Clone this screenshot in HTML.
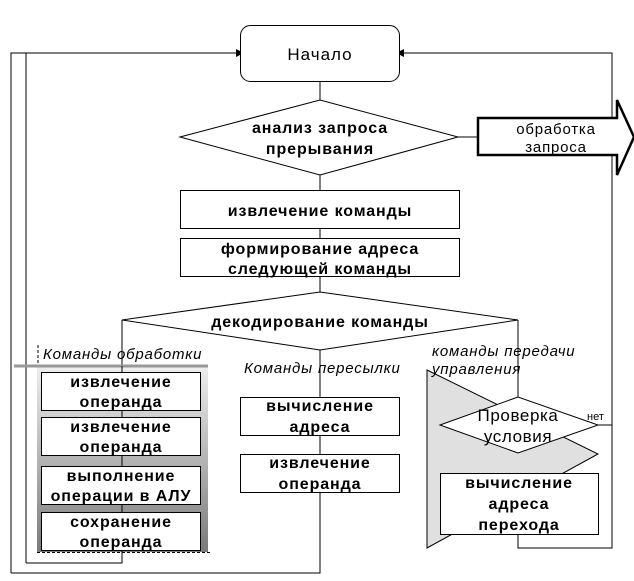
<!DOCTYPE html>
<html><head><meta charset="utf-8"><style>
html,body{margin:0;padding:0;background:#fff}
svg{display:block}
text{font-family:"Liberation Sans",sans-serif;fill:#000}
.b{font-size:16px;font-weight:bold;letter-spacing:0.9px}
.i{font-size:15px;font-style:italic;letter-spacing:0.8px}
</style></head><body>
<svg width="634" height="581" viewBox="0 0 634 581" xmlns="http://www.w3.org/2000/svg">
<defs>
<linearGradient id="g" x1="0" y1="0" x2="0" y2="1">
<stop offset="0" stop-color="#eeeeee"/><stop offset="1" stop-color="#7a7a7a"/>
</linearGradient>
</defs>
<g fill="none" stroke="#000" stroke-width="1">
<polyline points="11,573 11,53 236,53"/>
<polyline points="26,563 26,53"/>
<polyline points="122,320 122,563 26,563"/>
<polyline points="320,435 320,573 11,573"/>
<polyline points="518,534 518,548 612,548 612,53 404,53"/>
<line x1="320" y1="82" x2="320" y2="100"/>
<line x1="320" y1="175" x2="320" y2="190"/>
<line x1="320" y1="228" x2="320" y2="238"/>
<line x1="320" y1="277" x2="320" y2="292"/>
<line x1="320" y1="350" x2="320" y2="397"/>
<line x1="458" y1="137" x2="478" y2="137"/>
<polyline points="518,320 518,397"/>
<line x1="598" y1="425" x2="612" y2="425"/>
<line x1="518" y1="453" x2="518" y2="466"/>
</g>
<polygon points="236,49 236,57 244,53" fill="#000"/>
<polygon points="404,49 404,57 396,53" fill="#000"/>
<polygon points="514,464 522,464 518,473" fill="#000"/>
<rect x="240.5" y="25.5" width="159" height="56" rx="10" fill="#fff" stroke="#000"/>
<text x="320" y="60" text-anchor="middle" style="font-size:17px;letter-spacing:1px">Начало</text>
<polygon points="180,137 320,100 458,137 320,175" fill="#fff" stroke="#000"/>
<text x="320" y="133" text-anchor="middle" class="b">анализ запроса</text>
<text x="320" y="154" text-anchor="middle" class="b">прерывания</text>
<polygon points="478,118 617,118 617,100 634,137 617,175 617,155 478,155" fill="#fff" stroke="#000" stroke-width="2.5"/>
<text x="556" y="134" text-anchor="middle" style="font-size:15px;letter-spacing:0.8px">обработка</text>
<text x="556" y="152" text-anchor="middle" style="font-size:15px;letter-spacing:0.8px">запроса</text>
<rect x="180.5" y="190.5" width="279" height="38" fill="#fff" stroke="#000"/>
<text x="320" y="216" text-anchor="middle" class="b">извлечение команды</text>
<rect x="180.5" y="238.5" width="279" height="38" fill="#fff" stroke="#000"/>
<text x="320" y="254" text-anchor="middle" class="b">формирование адреса</text>
<text x="320" y="274" text-anchor="middle" class="b">следующей команды</text>
<polygon points="122,320 320,292 518,320 320,350" fill="#fff" stroke="#000"/>
<text x="320" y="327" text-anchor="middle" class="b">декодирование команды</text>
<text x="43" y="359" class="i">Команды обработки</text>
<line x1="38" y1="345" x2="38" y2="364" stroke="#000" stroke-dasharray="3,2"/>
<rect x="37" y="367" width="171" height="185" fill="url(#g)"/>
<line x1="14" y1="366" x2="208" y2="366" stroke="#999" stroke-width="3"/>
<line x1="37" y1="552.5" x2="210" y2="552.5" stroke="#000" stroke-dasharray="3,2"/>
<line x1="122" y1="366" x2="122" y2="563" stroke="#000"/>
<g fill="#fff" stroke="#000">
<rect x="41.5" y="372.5" width="159" height="38"/>
<rect x="41.5" y="417.5" width="159" height="38"/>
<rect x="41.5" y="466.5" width="159" height="38"/>
<rect x="41.5" y="512.5" width="159" height="38"/>
</g>
<g class="b" text-anchor="middle">
<text x="121" y="387">извлечение</text><text x="121" y="407">операнда</text>
<text x="121" y="432">извлечение</text><text x="121" y="452">операнда</text>
<text x="121" y="481">выполнение</text><text x="121" y="501">операции в АЛУ</text>
<text x="121" y="527">сохранение</text><text x="121" y="547">операнда</text>
</g>
<text x="244" y="373" class="i">Команды пересылки</text>
<line x1="320" y1="360" x2="320" y2="397" stroke="#000"/>
<rect x="240.5" y="397.5" width="159" height="38" fill="#fff" stroke="#000"/>
<rect x="240.5" y="454.5" width="159" height="38" fill="#fff" stroke="#000"/>
<line x1="320" y1="435" x2="320" y2="455" stroke="#000"/>
<g class="b" text-anchor="middle">
<text x="320" y="411">вычисление</text><text x="320" y="432">адреса</text>
<text x="320" y="468">извлечение</text><text x="320" y="489">операнда</text>
</g>
<polygon points="427,370 598,454 427,548" fill="#e0e0e0" stroke="#000"/>
<text x="432" y="356" class="i">команды передачи</text>
<text x="432" y="374" class="i">управления</text>
<line x1="518" y1="340" x2="518" y2="397" stroke="#000"/>
<polygon points="440,425 518,397 598,425 518,453" fill="#fff" stroke="#000"/>
<text x="518" y="421" text-anchor="middle" style="font-size:17px;letter-spacing:0.6px">Проверка</text>
<text x="518" y="442" text-anchor="middle" style="font-size:17px;letter-spacing:0.6px">условия</text>
<text x="587" y="420" style="font-size:11px">нет</text>
<rect x="440.5" y="473.5" width="158" height="61" fill="#fff" stroke="#000"/>
<g class="b" text-anchor="middle">
<text x="519" y="488">вычисление</text><text x="519" y="509">адреса</text><text x="519" y="530">перехода</text>
</g>
</svg>
</body></html>
